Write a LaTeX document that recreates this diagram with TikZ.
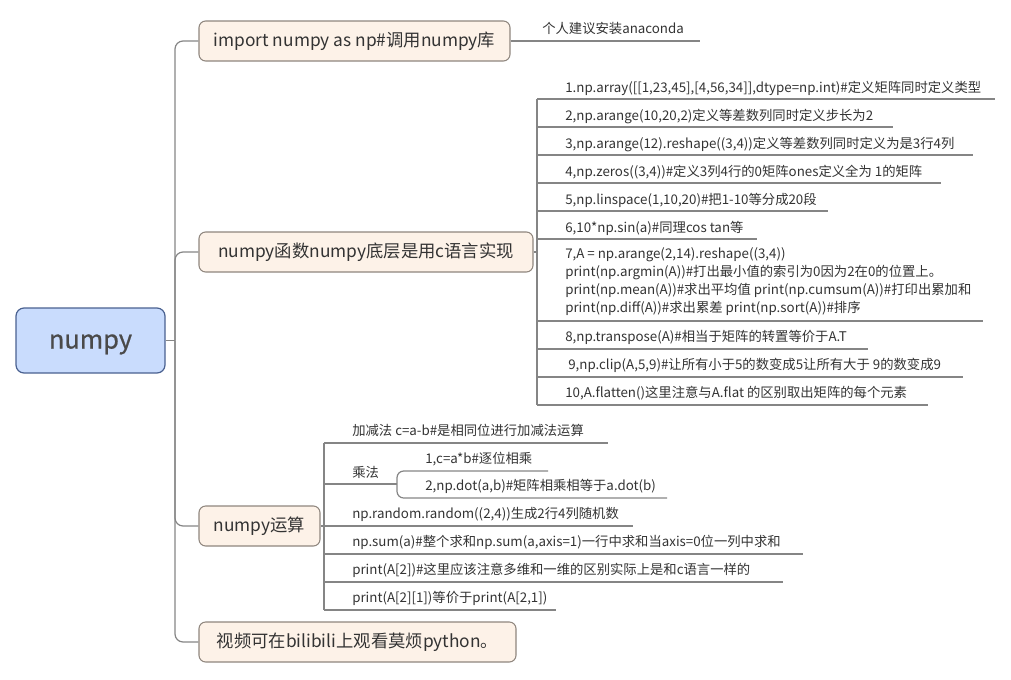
\documentclass[tikz,border=0pt]{standalone}
\usepackage{fontspec}
\setmainfont{Noto Sans CJK SC}
\newfontfamily\rootfont[FakeBold=0.8]{Noto Sans CJK SC}
\definecolor{linegray}{HTML}{858585}
\definecolor{rootfill}{HTML}{C9DCFD}
\definecolor{rootborder}{HTML}{4A6190}
\definecolor{branchfill}{HTML}{FDF2E8}
\definecolor{branchborder}{HTML}{8F867E}
\definecolor{txt}{HTML}{333333}
\definecolor{roottext}{HTML}{4A4A4A}
\begin{document}
\begin{tikzpicture}[x=0.75pt,y=-0.75pt,
  conn/.style={draw=linegray, line width=0.9pt},
  bw/.style={minimum width={#1*0.75pt}},
  rootbox/.style={draw=rootborder, fill=rootfill, rounded corners=6pt, line width=0.9pt,
    minimum width=111.75pt, minimum height=48.75pt, inner sep=0pt,
    text height=14pt, text depth=2pt,
    font=\rootfont\fontsize{19}{22}\selectfont, text=roottext},
  branchbox/.style={draw=branchborder, fill=branchfill, rounded corners=5pt, line width=0.8pt,
    minimum height=30pt, inner sep=0pt, font=\fontsize{13}{15}\selectfont, text=txt},
  leaf/.style={anchor=base west, inner sep=0pt, font=\fontsize{10}{13.3}\selectfont, text=txt},
]
\useasboundingbox (0,0) rectangle (1011,679);

% root and main branches
\node[rootbox] (root) at (90.5,340.5) {numpy};
\node[branchbox, bw=311] (b1) at (354.5,41) {import numpy as np\#调用numpy库};
\node[branchbox, bw=334] (b2) at (366,252) {numpy函数numpy底层是用c语言实现};
\node[branchbox, bw=121] (b3) at (259.5,526) {numpy运算};
\node[branchbox, bw=317] (b4) at (357.5,642) {视频可在bilibili上观看莫烦python。};

\coordinate (trunk) at (175,340.5);
\draw[conn] (root.east) -- (trunk);
\foreach \b in {b1,b2,b3,b4} \draw[conn, rounded corners=6pt] (trunk) |- (\b.west);

% branch 1
\coordinate (e1) at (700,41);
\draw[conn] (b1.east) -- (e1);
\node[leaf] (l0) at (542,33) {个人建议安装anaconda};

% branch 2
\coordinate (v2t) at (537,99);
\coordinate (v2b) at (537,405);
\draw[conn] (b2.east) -- (b2.east -| v2t);
\draw[conn] (v2t) -- (v2b);
\draw[conn] (537,99) -- (995,99);
\node[leaf] (c1) at (565,92) {1.np.array([[1,23,45],[4,56,34]],dtype=np.int)\#定义矩阵同时定义类型};
\draw[conn] (537,127) -- (893,127);
\node[leaf] (c2) at (565,120) {2,np.arange(10,20,2)定义等差数列同时定义步长为2};
\draw[conn] (537,155) -- (973,155);
\node[leaf] (c3) at (565,148) {3,np.arange(12).reshape((3,4))定义等差数列同时定义为是3行4列};
\draw[conn] (537,183) -- (941,183);
\node[leaf] (c4) at (565,176) {4,np.zeros((3,4))\#定义3列4行的0矩阵ones定义全为 1的矩阵};
\draw[conn] (537,211) -- (828,211);
\node[leaf] (c5) at (565,204) {5,np.linspace(1,10,20)\#把1-10等分成20段};
\draw[conn] (537,239) -- (757,239);
\node[leaf] (c6) at (565,232) {6,10*np.sin(a)\#同理cos tan等};
\draw[conn] (537,321) -- (983,321);
\node[leaf] (c7) at (565,312) {\parbox[b]{15cm}{7,A = np.arange(2,14).reshape((3,4))\\
print(np.argmin(A))\#打出最小值的索引为0因为2在0的位置上。\\
print(np.mean(A))\#求出平均值 print(np.cumsum(A))\#打印出累加和\\
print(np.diff(A))\#求出累差 print(np.sort(A))\#排序}};
\draw[conn] (537,349) -- (868,349);
\node[leaf] (c8) at (565,341) {8,np.transpose(A)\#相当于矩阵的转置等价于A.T};
\draw[conn] (537,377) -- (963,377);
\node[leaf] (c9) at (568,369) {9,np.clip(A,5,9)\#让所有小于5的数变成5让所有大于 9的数变成9};
\draw[conn] (537,405) -- (928,405);
\node[leaf] (c10) at (565,397) {10,A.flatten()这里注意与A.flat 的区别取出矩阵的每个元素};

% branch 3
\coordinate (v3t) at (324,443);
\coordinate (v3b) at (324,610);
\draw[conn] (b3.east) -- (b3.east -| v3t);
\draw[conn] (v3t) -- (v3b);
\draw[conn] (324,443) -- (608,443);
\node[leaf] (d1) at (352,435) {加减法 c=a-b\#是相同位进行加减法运算};
\draw[conn] (324,484) -- (397,484);
\node[leaf] (d2) at (352,477) {乘法};
\draw[conn, rounded corners=5pt] (548,471) -- (397,471) -- (397,498) -- (667,498);
\node[leaf] (d21) at (425,463) {1,c=a*b\#逐位相乘};
\node[leaf] (d22) at (425,490) {2,np.dot(a,b)\#矩阵相乘相等于a.dot(b)};
\draw[conn] (324,526) -- (633,526);
\node[leaf] (d3) at (352,518) {np.random.random((2,4))生成2行4列随机数};
\draw[conn] (324,554) -- (803,554);
\node[leaf] (d4) at (352,546) {np.sum(a)\#整个求和np.sum(a,axis=1)一行中求和当axis=0位一列中求和};
\draw[conn] (324,582) -- (783,582);
\node[leaf] (d5) at (352,574) {print(A[2])\#这里应该注意多维和一维的区别实际上是和c语言一样的};
\draw[conn] (324,610) -- (556,610);
\node[leaf] (d6) at (352,602) {print(A[2][1])等价于print(A[2,1])};
\end{tikzpicture}
\end{document}
